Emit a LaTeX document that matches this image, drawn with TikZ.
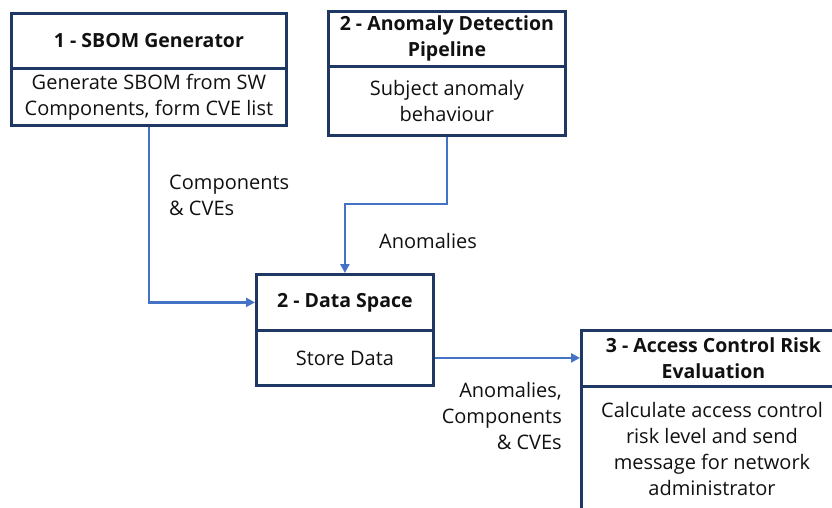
\documentclass[tikz,border=0pt]{standalone}
\usepackage{fontspec}
\setmainfont{Open Sans}
\usetikzlibrary{arrows.meta}
\definecolor{boxline}{HTML}{1F3763}
\definecolor{arrowblue}{HTML}{4472C4}
\definecolor{txt}{HTML}{111111}
\tikzset{
  cell/.style={draw=boxline, line width=2.8pt, anchor=north west, inner sep=0pt, align=center, text=txt, font=\fontsize{20}{26}\selectfont},
  titlecell/.style={cell, font=\fontsize{19.5}{26}\selectfont\bfseries},
  conn/.style={draw=arrowblue, line width=2.5pt, -{Triangle[length=9pt,width=9pt]}},
  lbl/.style={inner sep=0pt, text=txt, font=\fontsize{20}{26}\selectfont}
}
\begin{document}
\begin{tikzpicture}[x=1pt,y=-1pt]
\useasboundingbox (0,0) rectangle (832,508);
\clip (0,0) rectangle (832,508);
\fill[white] (0,0) rectangle (832,508);
% Box 1
\node[titlecell, minimum width=275pt, minimum height=55pt] (b1t) at (10,12) {1 - SBOM Generator};
\node[cell, minimum width=275pt, minimum height=57pt] (b1b) at (10,67) {Generate SBOM from SW\\Components, form CVE list};
% Box 2
\node[titlecell, minimum width=237pt, minimum height=55pt] (b2t) at (327,10) {2 - Anomaly Detection\\Pipeline};
\node[cell, minimum width=237pt, minimum height=69pt] (b2b) at (327,65) {Subject anomaly\\behaviour};
% Data space
\node[titlecell, minimum width=177pt, minimum height=56pt] (dst) at (255,273) {2 - Data Space};
\node[cell, minimum width=177pt, minimum height=55pt] (dsb) at (255,329) {Store Data};
% Box 3
\node[titlecell, minimum width=264pt, minimum height=56pt] (b3t) at (580,329) {3 - Access Control Risk\\Evaluation};
\node[cell, minimum width=264pt, minimum height=135pt, anchor=north west] (b3b) at (580,385) {};
\node[lbl, align=center] (b3txt) at (712,449) {Calculate access control\\risk level and send\\message for network\\administrator};
% connectors
\coordinate (bend2) at (447,204);
\draw[conn] (b1b.south) |- (dst.west);
\draw[conn] (b2b.south) -- (b2b.south |- bend2) -| (dst.north);
\draw[conn] (dsb.east) -- (dsb.east -| b3t.west);
% labels
\node[lbl, align=left, anchor=west] (l1) at (169,195) {Components\\\& CVEs};
\node[lbl, anchor=west] (l2) at (379,241) {Anomalies};
\node[lbl, align=right, anchor=east] (l3) at (562,416) {Anomalies,\\Components\\\& CVEs};
\end{tikzpicture}
\end{document}
